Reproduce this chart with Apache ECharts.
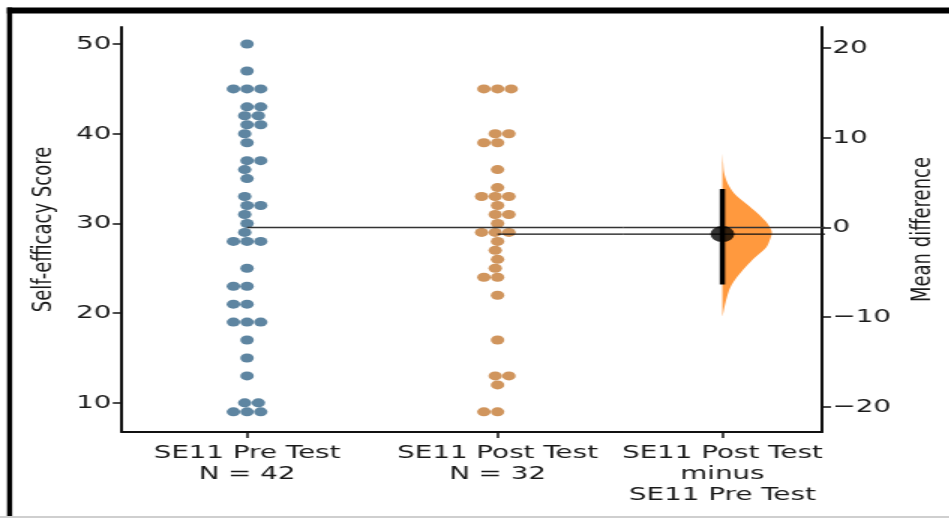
<!DOCTYPE html>
<html><head><meta charset="utf-8">
<script src="https://cdn.jsdelivr.net/npm/echarts@6/dist/echarts.min.js"></script>
<style>
html,body{margin:0;padding:0;background:#fff;overflow:hidden;}
#c{width:633.33px;height:518px;transform:scaleX(1.5);transform-origin:0 0;}
</style>
</head><body><div id="c"></div>
<script>
// ---- data ----
const groupLabels = ['SE11 Pre Test\nN = 42', 'SE11 Post Test\nN = 32'];
const contrastLabel = 'SE11 Post Test\nminus\nSE11 Pre Test';
const preScores = [50,47,45,45,45,43,43,42,42,41,41,40,39,37,37,36,35,33,32,32,31,30,29,28,28,28,25,23,23,21,21,19,19,19,17,15,13,10,10,9,9,9];
const postScores = [45,45,45,40,40,39,39,36,34,33,33,33,32,31,31,30,29,29,29,28,27,26,25,24,24,22,17,13,13,12,9,9];
const leftTicks = [10,20,30,40,50];
const rightTicks = [-20,-10,0,10,20];
const leftRange = [6.75, 51.9];
const ciBounds = [-6.35, 4.3];
const bootValues  = [8.3, 7.2, 6.1, 5.0, 3.8, 2.7, 1.6, 0.6, -0.3, -0.7, -1.4, -2.2, -3.3, -4.4, -5.5, -6.7, -7.8, -8.9, -10.0];
const bootDensity = [0, 0.014, 0.035, 0.10, 0.24, 0.47, 0.71, 0.89, 0.99, 1.0, 0.96, 0.89, 0.67, 0.47, 0.30, 0.16, 0.09, 0.04, 0];

// ---- derived ----
const mean = a => a.reduce((s,v)=>s+v,0)/a.length;
const preMean = mean(preScores), postMean = mean(postScores);
const meanDiff = postMean - preMean;
const rightRange = [leftRange[0]-preMean, leftRange[1]-preMean];

// ---- layout / style ----
const FONT = 'DejaVu Sans';
const TXT = '#1a1a1a';
const G1 = {left:81.2, top:27, width:334, height:405};
const G2 = {left:415.2, top:27, width:132.8, height:405};
const pxPerUnitX = G1.width/2;
const pxPerUnitY = G1.height/(leftRange[1]-leftRange[0]);
const DOT = 9.1;
const violinWidth = 0.248;

function swarmOffsets(values){
  const order = values.map((v,i)=>i).sort((a,b)=>values[a]-values[b] || a-b);
  const placed = []; const out = new Array(values.length);
  const d = DOT;
  order.forEach(i=>{
    const y = values[i]*pxPerUnitY;
    if(!placed.length){placed.push({x:0,y}); out[i]=0; return;}
    const nb=[];
    for(let j=placed.length-1;j>=0;j--){ if(y-placed[j].y < d) nb.unshift(placed[j]); else break; }
    const cand=[0]; let leftFirst=true;
    nb.forEach(p=>{const dy=y-p.y; const dx=Math.sqrt(Math.max(d*d-dy*dy,0)); const cl=p.x-dx, cr=p.x+dx;
      if(leftFirst) cand.push(cl,cr); else cand.push(cr,cl); leftFirst=!leftFirst;});
    const sorted=cand.map((c,k)=>({c,k})).sort((a,b)=>(Math.abs(a.c)-Math.abs(b.c))||(a.k-b.k)).map(o=>o.c);
    let chosen=sorted[0];
    for(const c of sorted){ if(nb.every(p=>(p.x-c)**2+(p.y-y)**2 >= d*d-1e-6)){chosen=c;break;} }
    placed.push({x:chosen,y}); out[i]=chosen;
  });
  return out;
}
const preOff = swarmOffsets(preScores), postOff = swarmOffsets(postScores);
const preData = preScores.map((v,i)=>[0+preOff[i]/pxPerUnitX, v]);
const postData = postScores.map((v,i)=>[1+postOff[i]/pxPerUnitX, v]);

const axisLineStyle = {color:'#111', width:2};
const tickStyle = {color:'#111', width:1.5};
const labelStyle = {color:TXT, fontFamily:FONT, fontSize:18.5};
const nameStyle = {color:TXT, fontFamily:FONT, fontSize:18};
const fmtMinus = v => (v<0 ? '\u2212'+Math.abs(v) : String(v));

const chart = echarts.init(document.getElementById('c'), null, {renderer:'canvas'});
chart.setOption({
  animation:false,
  backgroundColor:'#fff',
  textStyle:{fontFamily:FONT},
  graphic:[
    {type:'rect', shape:{x:4.7, y:7.5, width:640, height:6}, style:{fill:'#000'}, z:100},
    {type:'rect', shape:{x:4.7, y:7.5, width:3.4, height:520}, style:{fill:'#000'}, z:100},
    {type:'rect', shape:{x:0, y:516, width:640, height:2}, style:{fill:'#cfcfcf'}, z:100}
  ],
  grid:[
    Object.assign({containLabel:false}, G1),
    Object.assign({containLabel:false}, G2)
  ],
  xAxis:[
    {gridIndex:0, type:'value', min:-0.5, max:1.5,
     axisLine:{show:true, onZero:false, lineStyle:axisLineStyle},
     axisTick:{show:true, customValues:[0,1], length:6, lineStyle:tickStyle},
     axisLabel:Object.assign({customValues:[0,1], margin:11, lineHeight:21, formatter:v=>groupLabels[Math.round(v)]}, labelStyle),
     splitLine:{show:false}},
    {gridIndex:1, type:'value', min:-0.5, max:0.5,
     axisLine:{show:true, onZero:false, lineStyle:axisLineStyle},
     axisTick:{show:true, customValues:[0], length:6, lineStyle:tickStyle},
     axisLabel:Object.assign({customValues:[0], margin:11, lineHeight:21, formatter:()=>contrastLabel}, labelStyle),
     splitLine:{show:false}}
  ],
  yAxis:[
    {gridIndex:0, type:'value', position:'left', min:leftRange[0], max:leftRange[1],
     name:'Self-efficacy Score', nameLocation:'middle', nameRotate:90, nameGap:42.5,
     nameTextStyle:nameStyle,
     axisLine:{show:true, onZero:false, lineStyle:axisLineStyle},
     axisTick:{show:true, customValues:leftTicks, length:6, lineStyle:tickStyle},
     axisLabel:Object.assign({customValues:leftTicks, margin:7}, labelStyle),
     splitLine:{show:false}},
    {gridIndex:1, type:'value', position:'right', min:rightRange[0], max:rightRange[1],
     name:'Mean difference', nameLocation:'middle', nameRotate:90, nameGap:58,
     nameTextStyle:nameStyle,
     axisLine:{show:true, onZero:false, lineStyle:axisLineStyle},
     axisTick:{show:true, customValues:rightTicks, length:6, lineStyle:tickStyle},
     axisLabel:Object.assign({customValues:rightTicks, margin:7, formatter:fmtMinus}, labelStyle),
     splitLine:{show:false}}
  ],
  series:[
    {type:'scatter', xAxisIndex:0, yAxisIndex:0, data:preData, symbol:'circle', symbolSize:9,
     itemStyle:{color:'#36668a'}, z:2},
    {type:'scatter', xAxisIndex:0, yAxisIndex:0, data:postData, symbol:'circle', symbolSize:9,
     itemStyle:{color:'#c47a34'}, z:2},
    {type:'line', xAxisIndex:0, yAxisIndex:0, data:[[0,preMean],[1.5,preMean]], symbol:'none',
     lineStyle:{color:'#333', width:1.4}, z:5},
    {type:'line', xAxisIndex:0, yAxisIndex:0, data:[[1,postMean],[1.5,postMean]], symbol:'none',
     lineStyle:{color:'#111', width:1.4}, z:5},
    {type:'line', xAxisIndex:1, yAxisIndex:1, data:[[-0.5,0],[0.54,0]], symbol:'none', clip:false,
     lineStyle:{color:'#333', width:1.4}, z:5},
    {type:'line', xAxisIndex:1, yAxisIndex:1, data:[[-0.5,meanDiff],[0.54,meanDiff]], symbol:'none', clip:false,
     lineStyle:{color:'#111', width:1.4}, z:5},
    {type:'custom', xAxisIndex:1, yAxisIndex:1, data:[[0,meanDiff]], z:3,
     renderItem:(params, api)=>{
       const pts = bootValues.map((v,k)=>api.coord([violinWidth*bootDensity[k], v]));
       return {type:'polyline', shape:{points:pts, smooth:0.3},
               style:{fill:'rgba(255,127,14,0.8)', stroke:null, lineWidth:0}};
     }},
    {type:'line', xAxisIndex:1, yAxisIndex:1, data:[[0,ciBounds[0]],[0,ciBounds[1]]], symbol:'none',
     lineStyle:{color:'#000', width:3.5}, z:6},
    {type:'scatter', xAxisIndex:1, yAxisIndex:1, data:[[0,meanDiff]], symbol:'circle', symbolSize:16,
     itemStyle:{color:'#000'}, z:7}
  ]
});
</script>
</body></html>
